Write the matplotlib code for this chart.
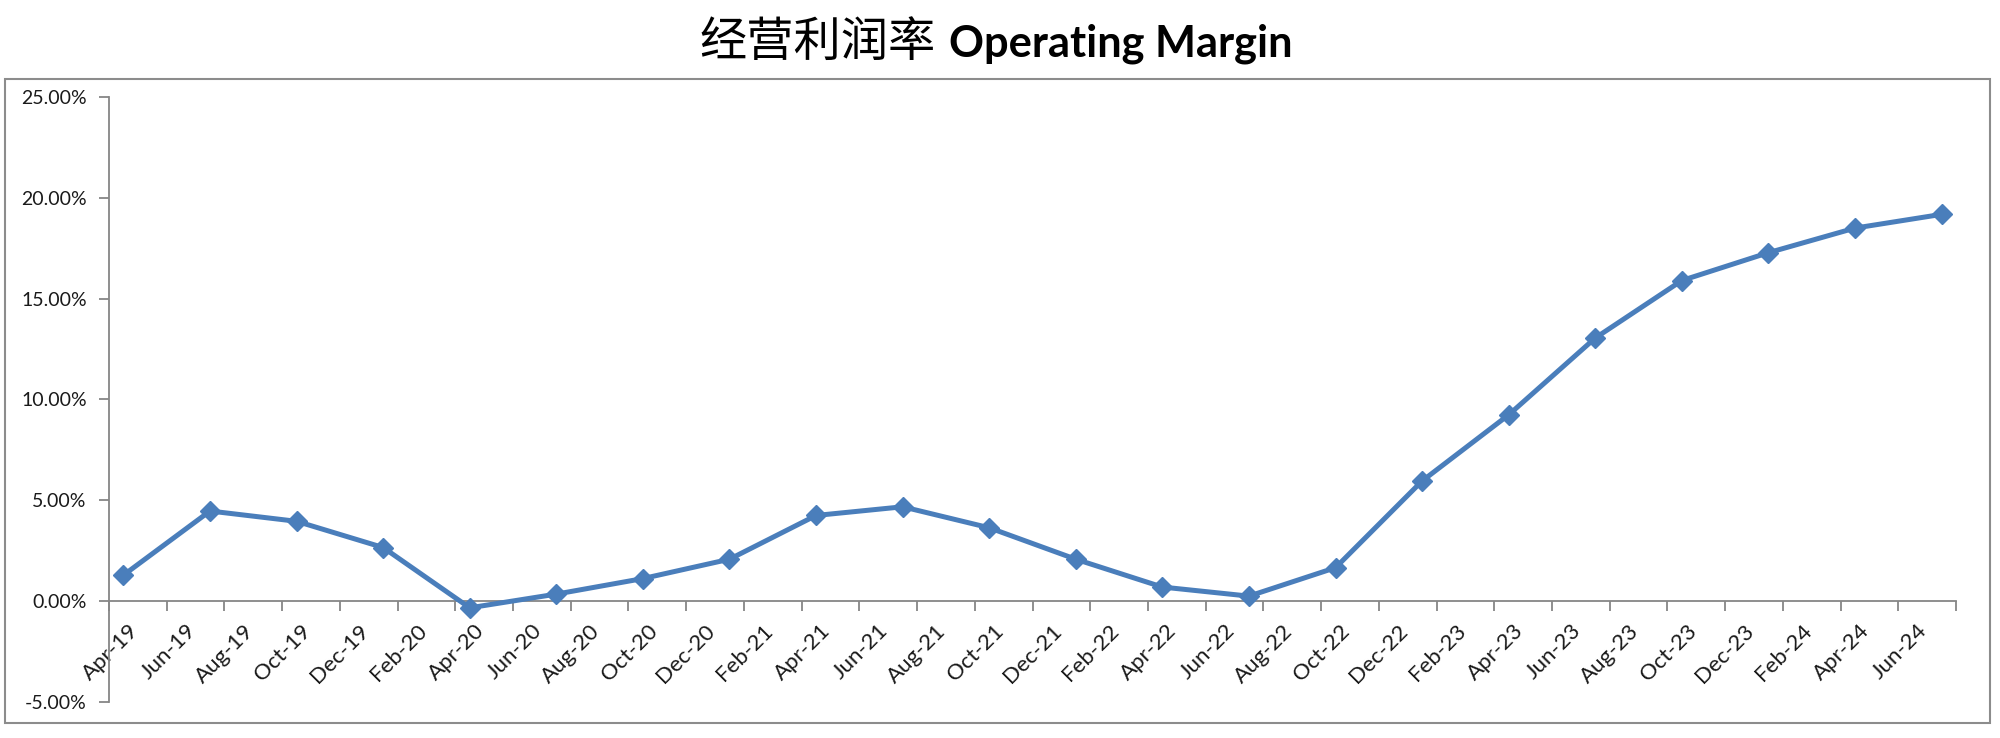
import matplotlib
matplotlib.use("Agg")
import matplotlib.pyplot as plt
from matplotlib.patches import Rectangle
from matplotlib.ticker import FuncFormatter, FixedLocator
import numpy as np

# ---- data ----
month_names = ["Jan", "Feb", "Mar", "Apr", "May", "Jun", "Jul", "Aug", "Sep", "Oct", "Nov", "Dec"]
start_year, start_month = 2019, 4   # Apr-19 is month index 0
n_months = 64                        # Apr-19 .. Jul-24
quarters = ["Apr-19", "Jul-19", "Oct-19", "Jan-20", "Apr-20", "Jul-20", "Oct-20", "Jan-21",
            "Apr-21", "Jul-21", "Oct-21", "Jan-22", "Apr-22", "Jul-22", "Oct-22", "Jan-23",
            "Apr-23", "Jul-23", "Oct-23", "Jan-24", "Apr-24", "Jul-24"]
margin_pct = [1.29, 4.47, 3.96, 2.66, -0.33, 0.35, 1.12, 2.08, 4.25, 4.68, 3.64, 2.08,
              0.70, 0.25, 1.66, 5.96, 9.24, 13.05, 15.90, 17.28, 18.50, 19.18]
y_ticks = [-0.05, 0.0, 0.05, 0.10, 0.15, 0.20, 0.25]
title_cn = "经营利润率"
title_en = "Operating Margin"


def month_index(label):
    mon, yy = label.split("-")
    m = month_names.index(mon) + 1
    y = 2000 + int(yy)
    return (y - start_year) * 12 + (m - start_month)


def month_label(idx):
    total = start_month - 1 + idx
    return f"{month_names[total % 12]}-{(start_year + total // 12) % 100:02d}"


x = np.array([month_index(q) + 0.5 for q in quarters])
y = np.array(margin_pct) / 100.0

W, H = 2000, 738
fig = plt.figure(figsize=(W / 100, H / 100), dpi=100)
fig.patch.set_facecolor("white")

# outer chart border
fig.add_artist(Rectangle((5 / W, 1 - 723 / H), (1990 - 5) / W, (723 - 79) / H,
                         transform=fig.transFigure, fill=False, edgecolor="#8c8c8c", lw=1.5))

ax_left, ax_right = 109 / W, 1956 / W
ax_top, ax_bot = 1 - 97 / H, 1 - 702 / H
ax = fig.add_axes([ax_left, ax_bot, ax_right - ax_left, ax_top - ax_bot])
ax.set_facecolor("none")

ax.plot(x, y, color="#4A7EBB", lw=3.6, marker="D", markersize=10.5,
        markerfacecolor="#4A7EBB", markeredgecolor="#4A7EBB", solid_joinstyle="round", zorder=3)

ax.set_xlim(0, n_months)
ax.set_ylim(-0.05, 0.25)

spine_col = "#868686"
for s in ["top", "right"]:
    ax.spines[s].set_visible(False)
ax.spines["left"].set_color(spine_col)
ax.spines["bottom"].set_color(spine_col)
ax.spines["left"].set_linewidth(1.3)
ax.spines["bottom"].set_linewidth(1.3)
ax.spines["bottom"].set_position(("data", 0))

ax.yaxis.set_major_locator(FixedLocator(y_ticks))
ax.yaxis.set_major_formatter(FuncFormatter(lambda v, p: f"{v * 100:.2f}%"))
ax.tick_params(axis="y", direction="out", length=7, width=1.3, color=spine_col, pad=9)
for lab in ax.get_yticklabels():
    lab.set_fontfamily("Lato")
    lab.set_fontsize(14)
    lab.set_color("#1a1a1a")

major_x = list(range(0, n_months + 1, 2))
ax.set_xticks(major_x)
ax.set_xticklabels([""] * len(major_x))
ax.tick_params(axis="x", which="major", direction="out", length=7, width=1.3, color=spine_col)
minor_x = [m + 0.65 for m in range(0, n_months - 1, 2)]
ax.set_xticks(minor_x, minor=True)
ax.set_xticklabels([month_label(m) for m in range(0, n_months - 1, 2)], minor=True,
                   rotation=45, ha="right", va="top", rotation_mode="anchor",
                   fontfamily="Lato", fontsize=16, color="#1a1a1a")
ax.tick_params(axis="x", which="minor", length=0, pad=14)

# title: Chinese part + bold English part
base_y = 1 - 56 / H
fig.canvas.draw()
r = fig.canvas.get_renderer()
t_cn = fig.text(699 / W, base_y, title_cn, family="Noto Sans CJK SC", fontsize=34,
                va="baseline", ha="left", color="black")
t_en = fig.text(0, base_y, title_en, family="Lato", fontweight="bold", fontsize=28,
                va="baseline", ha="left", color="black")
bb_en = t_en.get_window_extent(renderer=r)
t_en.set_fontsize(28 * 344 / bb_en.width)
bb_cn = t_cn.get_window_extent(renderer=r)
t_en.set_x((bb_cn.x1 + 14) / W)

fig.savefig("out.png", dpi=100, facecolor="white")
